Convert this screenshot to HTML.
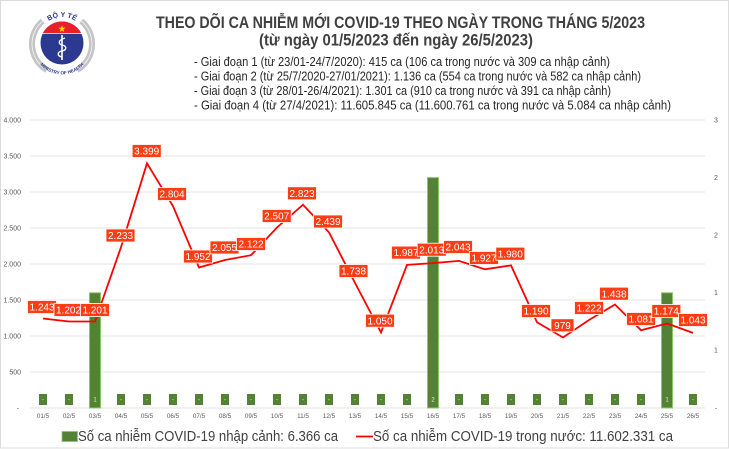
<!DOCTYPE html>
<html>
<head>
<meta charset="utf-8">
<style>
  html,body{margin:0;padding:0;background:#fff;}
  svg{display:block;}
  text{font-family:"Liberation Sans", "DejaVu Sans", sans-serif;}
</style>
</head>
<body>
<svg width="730" height="449" viewBox="0 0 730 449" xmlns="http://www.w3.org/2000/svg">
  <rect x="0" y="0" width="730" height="449" fill="#fff"/>
  <rect x="0.5" y="0.5" width="728" height="447.5" fill="none" stroke="#dcdcdc" stroke-width="1"/>

  <!-- Logo -->
  <defs>
    <clipPath id="capclip"><rect x="30" y="10" width="70" height="23.2"/></clipPath>
    <path id="toparc" d="M 45 24 A 24 24 0 0 1 79 24"/>
    <path id="botarc" d="M 35 56 A 29 29 0 0 0 89 56"/>
  </defs>
  <g>
    <path d="M 47 70 A 30 30 0 0 1 42.7 21" fill="none" stroke="#c4c4c4" stroke-width="6"/>
    <path d="M 81.3 21 A 30 30 0 0 1 77 70" fill="none" stroke="#c4c4c4" stroke-width="6"/>
    <path d="M 47 70 A 30 30 0 0 1 42.7 21" fill="none" stroke="#fff" stroke-width="0.7"/>
    <path d="M 81.3 21 A 30 30 0 0 1 77 70" fill="none" stroke="#fff" stroke-width="0.7"/>
    <circle cx="62" cy="43" r="21.5" fill="#2b3990"/>
    <circle cx="62" cy="43" r="21.5" fill="#e8202a" clip-path="url(#capclip)"/>
    <line x1="41" y1="33.5" x2="83" y2="33.5" stroke="#fff" stroke-width="0.8"/>
    <polygon points="62,25.2 62.9,27.8 65.6,27.8 63.4,29.4 64.2,32 62,30.4 59.8,32 60.6,29.4 58.4,27.8 61.1,27.8" fill="#ffe100"/>
    <line x1="62" y1="35" x2="62" y2="60" stroke="#fff" stroke-width="1.6"/>
    <path d="M 65 38 C 58 40, 58 44, 62 45 C 67 46, 67 50, 62 51 C 57 52, 57 56, 62 57" fill="none" stroke="#fff" stroke-width="1.4"/>
    <text font-size="7" font-weight="bold" fill="#2b3990"><textPath href="#toparc" startOffset="50%" text-anchor="middle">BỘ Y TẾ</textPath></text>
    <text font-size="4.6" font-weight="bold" fill="#2b3990"><textPath href="#botarc" startOffset="50%" text-anchor="middle">MINISTRY OF HEALTH</textPath></text>
  </g>

  <!-- Titles -->
  <text x="156" y="28" font-size="17" font-weight="bold" fill="#404040" textLength="489" lengthAdjust="spacingAndGlyphs">THEO DÕI CA NHIỄM MỚI COVID-19 THEO NGÀY TRONG THÁNG 5/2023</text>
  <text x="259" y="45.5" font-size="17" font-weight="bold" fill="#404040" textLength="274" lengthAdjust="spacingAndGlyphs">(từ ngày 01/5/2023 đến ngày 26/5/2023)</text>
  <g font-size="12.5" fill="#262626">
    <text x="194" y="66" textLength="416" lengthAdjust="spacingAndGlyphs">- Giai đoạn 1 (từ 23/01-24/7/2020): 415 ca (106 ca trong nước và 309 ca nhập cảnh)</text>
    <text x="194" y="80.5" textLength="447" lengthAdjust="spacingAndGlyphs">- Giai đoạn 2 (từ 25/7/2020-27/01/2021): 1.136 ca (554 ca trong nước và 582 ca nhập cảnh)</text>
    <text x="194" y="95" textLength="417" lengthAdjust="spacingAndGlyphs">- Giai đoạn 3 (từ 28/01-26/4/2021): 1.301 ca (910 ca trong nước và 391 ca nhập cảnh)</text>
    <text x="194" y="109.5" textLength="477" lengthAdjust="spacingAndGlyphs">- Giai đoạn 4 (từ 27/4/2021): 11.605.845 ca (11.600.761 ca trong nước và 5.084 ca nhập cảnh)</text>
  </g>

  <!-- Gridlines -->
  <g stroke="#e3e3e3" stroke-width="1">
    <line x1="30" y1="120" x2="705" y2="120"/>
    <line x1="30" y1="156" x2="705" y2="156"/>
    <line x1="30" y1="192" x2="705" y2="192"/>
    <line x1="30" y1="228" x2="705" y2="228"/>
    <line x1="30" y1="264" x2="705" y2="264"/>
    <line x1="30" y1="300" x2="705" y2="300"/>
    <line x1="30" y1="336" x2="705" y2="336"/>
    <line x1="30" y1="372" x2="705" y2="372"/>
    <line x1="30" y1="408" x2="705" y2="408"/>
  </g>

  <!-- Left axis labels -->
  <g font-size="7" fill="#595959" text-anchor="end">
    <text x="21" y="122.5">4.000</text>
    <text x="21" y="158.5">3.500</text>
    <text x="21" y="194.5">3.000</text>
    <text x="21" y="230.5">2.500</text>
    <text x="21" y="266.5">2.000</text>
    <text x="21" y="302.5">1.500</text>
    <text x="21" y="338.5">1.000</text>
    <text x="21" y="374.5">500</text>
    <text x="19" y="410.5">-</text>
  </g>
  <!-- Right axis labels -->
  <g font-size="7" fill="#595959" text-anchor="middle">
    <text x="716" y="122.5">3</text>
    <text x="716" y="180">2</text>
    <text x="716" y="237.5">2</text>
    <text x="716" y="295">1</text>
    <text x="716" y="352.5">1</text>
    <text x="716" y="410.5">-</text>
  </g>

  <!-- Bars -->
  <g fill="#548235" stroke="#8cc66a" stroke-width="1">
    <rect x="89.5" y="292.8" width="11" height="115.2"/>
    <rect x="427.5" y="177.6" width="11" height="230.4"/>
    <rect x="661.5" y="292.8" width="11" height="115.2"/>
  </g>
  <!-- Bar data labels -->
  <g fill="#548235">
    <rect x="39" y="394" width="8" height="11"/>
    <rect x="65" y="394" width="8" height="11"/>
    <rect x="117" y="394" width="8" height="11"/>
    <rect x="143" y="394" width="8" height="11"/>
    <rect x="169" y="394" width="8" height="11"/>
    <rect x="195" y="394" width="8" height="11"/>
    <rect x="221" y="394" width="8" height="11"/>
    <rect x="247" y="394" width="8" height="11"/>
    <rect x="273" y="394" width="8" height="11"/>
    <rect x="299" y="394" width="8" height="11"/>
    <rect x="325" y="394" width="8" height="11"/>
    <rect x="351" y="394" width="8" height="11"/>
    <rect x="377" y="394" width="8" height="11"/>
    <rect x="403" y="394" width="8" height="11"/>
    <rect x="455" y="394" width="8" height="11"/>
    <rect x="481" y="394" width="8" height="11"/>
    <rect x="507" y="394" width="8" height="11"/>
    <rect x="533" y="394" width="8" height="11"/>
    <rect x="559" y="394" width="8" height="11"/>
    <rect x="585" y="394" width="8" height="11"/>
    <rect x="611" y="394" width="8" height="11"/>
    <rect x="637" y="394" width="8" height="11"/>
    <rect x="689" y="394" width="8" height="11"/>
  </g>
  <g font-size="6" fill="#e8f0e0" text-anchor="middle">
    <text x="43" y="401.5">-</text><text x="69" y="401.5">-</text><text x="95" y="401.5">1</text>
    <text x="121" y="401.5">-</text><text x="147" y="401.5">-</text><text x="173" y="401.5">-</text>
    <text x="199" y="401.5">-</text><text x="225" y="401.5">-</text><text x="251" y="401.5">-</text>
    <text x="277" y="401.5">-</text><text x="303" y="401.5">-</text><text x="329" y="401.5">-</text>
    <text x="355" y="401.5">-</text><text x="381" y="401.5">-</text><text x="407" y="401.5">-</text>
    <text x="433" y="401.5">2</text><text x="459" y="401.5">-</text><text x="485" y="401.5">-</text>
    <text x="511" y="401.5">-</text><text x="537" y="401.5">-</text><text x="563" y="401.5">-</text>
    <text x="589" y="401.5">-</text><text x="615" y="401.5">-</text><text x="641" y="401.5">-</text>
    <text x="667" y="401.5">1</text><text x="693" y="401.5">-</text>
  </g>

  <!-- X axis labels -->
  <g font-size="6.3" fill="#595959" text-anchor="middle">
    <text x="43" y="418">01/5</text><text x="69" y="418">02/5</text><text x="95" y="418">03/5</text>
    <text x="121" y="418">04/5</text><text x="147" y="418">05/5</text><text x="173" y="418">06/5</text>
    <text x="199" y="418">07/5</text><text x="225" y="418">08/5</text><text x="251" y="418">09/5</text>
    <text x="277" y="418">10/5</text><text x="303" y="418">11/5</text><text x="329" y="418">12/5</text>
    <text x="355" y="418">13/5</text><text x="381" y="418">14/5</text><text x="407" y="418">15/5</text>
    <text x="433" y="418">16/5</text><text x="459" y="418">17/5</text><text x="485" y="418">18/5</text>
    <text x="511" y="418">19/5</text><text x="537" y="418">20/5</text><text x="563" y="418">21/5</text>
    <text x="589" y="418">22/5</text><text x="615" y="418">23/5</text><text x="641" y="418">24/5</text>
    <text x="667" y="418">25/5</text><text x="693" y="418">26/5</text>
  </g>

  <!-- Line -->
  <polyline fill="none" stroke="#ff0000" stroke-width="1.8" stroke-linejoin="miter"
    points="43,318.5 69,321.5 95,321.5 121,247.2 147,163.3 173,206.1 199,267.5 225,260 251,255.2 277,227.5 303,204.7 329,232.4 355,282.9 381,332.4 407,264.9 433,263.1 459,260.9 485,269.3 511,265.4 537,322.3 563,337.5 589,320 615,304.5 641,330.2 667,323.5 693,332.9"/>

  <!-- Line data labels -->
  <g font-size="10" text-anchor="middle">
    <g><rect x="27.5" y="300.5" width="29" height="13" fill="#ff3c14" stroke="#fff" stroke-width="0.8"/><text x="42" y="310.6" fill="#fff">1.243</text></g>
    <g><rect x="54" y="303.5" width="29" height="13" fill="#ff3c14" stroke="#fff" stroke-width="0.8"/><text x="68.5" y="313.6" fill="#fff">1.202</text></g>
    <g><rect x="80.5" y="303.5" width="29" height="13" fill="#ff3c14" stroke="#fff" stroke-width="0.8"/><text x="95" y="313.6" fill="#fff">1.201</text></g>
    <g><rect x="106" y="229" width="29" height="13" fill="#ff3c14" stroke="#fff" stroke-width="0.8"/><text x="120.5" y="239.1" fill="#fff">2.233</text></g>
    <g><rect x="132.2" y="144.5" width="29" height="13" fill="#ff3c14" stroke="#fff" stroke-width="0.8"/><text x="146.7" y="154.6" fill="#fff">3.399</text></g>
    <g><rect x="157.5" y="187.5" width="29" height="13" fill="#ff3c14" stroke="#fff" stroke-width="0.8"/><text x="172" y="197.6" fill="#fff">2.804</text></g>
    <g><rect x="183.5" y="250" width="29" height="13" fill="#ff3c14" stroke="#fff" stroke-width="0.8"/><text x="198" y="260.1" fill="#fff">1.952</text></g>
    <g><rect x="210" y="241" width="29" height="13" fill="#ff3c14" stroke="#fff" stroke-width="0.8"/><text x="224.5" y="251.1" fill="#fff">2.055</text></g>
    <g><rect x="236.5" y="237.5" width="29" height="13" fill="#ff3c14" stroke="#fff" stroke-width="0.8"/><text x="251" y="247.6" fill="#fff">2.122</text></g>
    <g><rect x="262.2" y="209.5" width="29" height="13" fill="#ff3c14" stroke="#fff" stroke-width="0.8"/><text x="276.7" y="219.6" fill="#fff">2.507</text></g>
    <g><rect x="287.5" y="186.8" width="29" height="13" fill="#ff3c14" stroke="#fff" stroke-width="0.8"/><text x="302" y="196.9" fill="#fff">2.823</text></g>
    <g><rect x="313.5" y="215" width="29" height="13" fill="#ff3c14" stroke="#fff" stroke-width="0.8"/><text x="328" y="225.1" fill="#fff">2.439</text></g>
    <g><rect x="339" y="264.5" width="29" height="13" fill="#ff3c14" stroke="#fff" stroke-width="0.8"/><text x="353.5" y="274.6" fill="#fff">1.738</text></g>
    <g><rect x="365.5" y="314.2" width="29" height="13" fill="#ff3c14" stroke="#fff" stroke-width="0.8"/><text x="380" y="324.3" fill="#fff">1.050</text></g>
    <g><rect x="391.5" y="246.1" width="29" height="13" fill="#ff3c14" stroke="#fff" stroke-width="0.8"/><text x="406" y="256.2" fill="#fff">1.987</text></g>
    <g><rect x="417.2" y="243.2" width="29" height="13" fill="#ff3c14" stroke="#fff" stroke-width="0.8"/><text x="431.7" y="253.3" fill="#fff">2.013</text></g>
    <g><rect x="443.5" y="240.5" width="29" height="13" fill="#ff3c14" stroke="#fff" stroke-width="0.8"/><text x="458" y="250.6" fill="#fff">2.043</text></g>
    <g><rect x="469.5" y="251.5" width="29" height="13" fill="#ff3c14" stroke="#fff" stroke-width="0.8"/><text x="484" y="261.6" fill="#fff">1.927</text></g>
    <g><rect x="495.8" y="247.2" width="29" height="13" fill="#ff3c14" stroke="#fff" stroke-width="0.8"/><text x="510.3" y="257.3" fill="#fff">1.980</text></g>
    <g><rect x="521.5" y="304.5" width="29" height="13" fill="#ff3c14" stroke="#fff" stroke-width="0.8"/><text x="536" y="314.6" fill="#fff">1.190</text></g>
    <g><rect x="551" y="318.8" width="23" height="13" fill="#ff3c14" stroke="#fff" stroke-width="0.8"/><text x="562.5" y="328.9" fill="#fff">979</text></g>
    <g><rect x="574.5" y="301.5" width="29" height="13" fill="#ff3c14" stroke="#fff" stroke-width="0.8"/><text x="589" y="311.6" fill="#fff">1.222</text></g>
    <g><rect x="599.5" y="287.2" width="29" height="13" fill="#ff3c14" stroke="#fff" stroke-width="0.8"/><text x="614" y="297.3" fill="#fff">1.438</text></g>
    <g><rect x="626.5" y="312.5" width="29" height="13" fill="#ff3c14" stroke="#fff" stroke-width="0.8"/><text x="641" y="322.6" fill="#fff">1.081</text></g>
    <g><rect x="651.8" y="304.5" width="29" height="13" fill="#ff3c14" stroke="#fff" stroke-width="0.8"/><text x="666.3" y="314.6" fill="#fff">1.174</text></g>
    <g><rect x="678.5" y="313.5" width="29" height="13" fill="#ff3c14" stroke="#fff" stroke-width="0.8"/><text x="693" y="323.6" fill="#fff">1.043</text></g>
  </g>

  <!-- Legend -->
  <rect x="62" y="431.5" width="15.5" height="10" fill="#548235" stroke="#8cc66a" stroke-width="0.8"/>
  <text x="78" y="441" font-size="14.5" fill="#404040" textLength="260" lengthAdjust="spacingAndGlyphs">Số ca nhiễm COVID-19 nhập cảnh: 6.366 ca</text>
  <line x1="356" y1="436.5" x2="373" y2="436.5" stroke="#ff0000" stroke-width="1.8"/>
  <text x="373" y="441" font-size="14.5" fill="#404040" textLength="300" lengthAdjust="spacingAndGlyphs">Số ca nhiễm COVID-19 trong nước: 11.602.331 ca</text>
</svg>
</body>
</html>
